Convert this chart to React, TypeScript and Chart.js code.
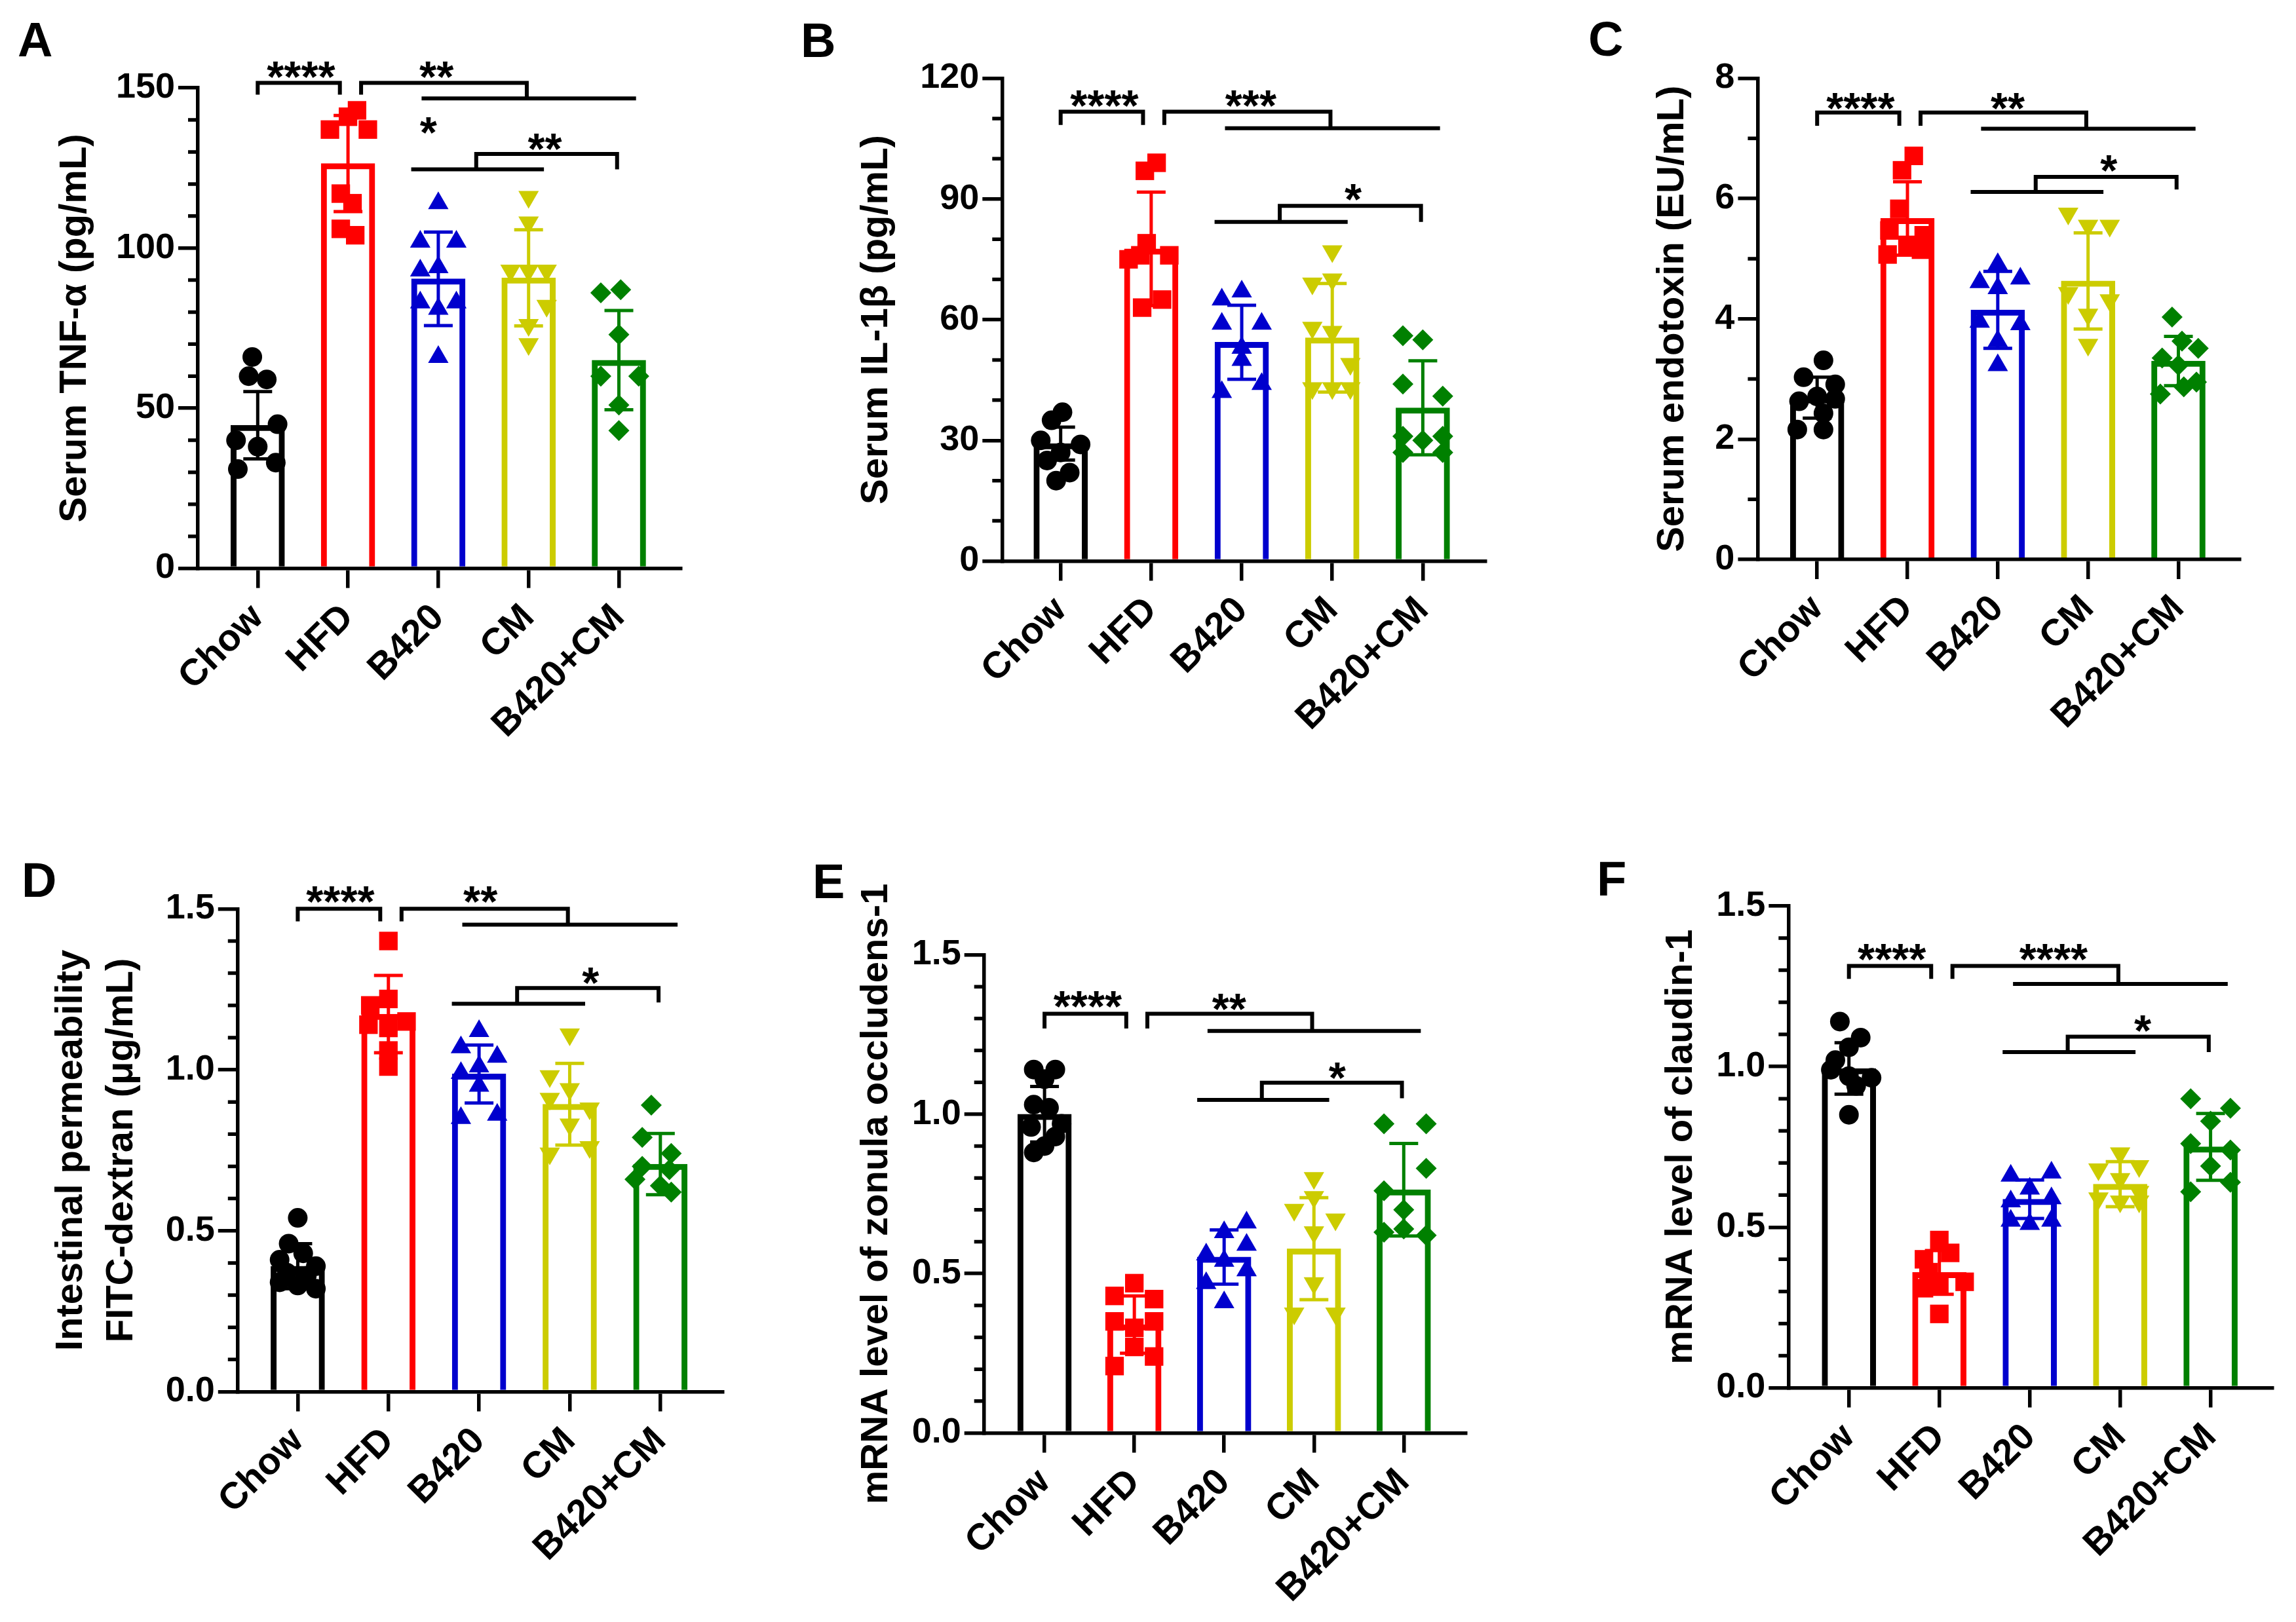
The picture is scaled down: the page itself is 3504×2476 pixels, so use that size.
import React, { useEffect, useRef } from "react";
import { Chart, registerables } from "chart.js";

Chart.register(...registerables);

const FONT = '"Liberation Sans", Arial, Helvetica, sans-serif';
Chart.defaults.font.family = FONT;

// ---------------- data ----------------
const categories = ["Chow", "HFD", "B420", "CM", "B420+CM"];
const groupColors = ["#000000", "#FF0000", "#0000CD", "#CCCC00", "#008000"];
const pointStyles = ["circle", "rect", "triangle", "triangle", "rectRot"];
const pointRotations = [0, 0, 0, 180, 0];
const pointRadii = [15, 20, 18, 18, 16];

// A: Serum TNF-alpha
const tnfMeans = [44.7, 126.4, 90.4, 90.7, 65.0];
const tnfSds = [10.5, 15.0, 14.6, 15.0, 15.5];
const tnfPoints = [
  [66, 60, 59, 45, 40, 38, 33, 31],
  [137, 141, 143, 137, 117, 114, 106, 104],
  [114, 102, 102, 94, 93, 83, 83, 81, 66],
  [116, 108, 93, 93, 93, 82, 76, 70],
  [86, 87, 73, 60, 60, 51, 43],
];
const tnfJitter = [
  [-0.06, -0.1, 0.1, 0.22, -0.24, 0.0, 0.2, -0.22],
  [-0.2, 0.0, 0.1, 0.22, -0.08, 0.05, -0.08, 0.08],
  [0, -0.2, 0.2, 0, -0.2, -0.2, 0.2, 0, 0],
  [0, 0, -0.2, 0, 0.2, 0.2, 0, 0],
  [-0.2, 0.02, 0, -0.2, 0.22, 0, 0],
];

// B: Serum IL-1beta
const il1bMeans = [29.2, 77.6, 54.4, 55.5, 38.1];
const il1bSds = [4.1, 14.1, 9.2, 13.5, 11.7];
const il1bPoints = [
  [37, 35, 30, 29, 27, 25, 22, 20],
  [99, 97, 79, 76, 76, 75, 65, 63],
  [67, 65, 59, 59, 53, 50, 44, 42],
  [77, 70, 69, 58, 57, 49, 43, 43, 43],
  [56, 55, 44, 41, 31, 31, 30, 27, 27],
];
const il1bJitter = [
  [0.02, -0.1, -0.22, 0.22, 0, -0.15, 0.1, -0.05],
  [0.06, -0.07, -0.05, -0.12, 0.2, -0.25, 0.12, -0.1],
  [0, -0.22, 0.22, -0.22, 0, 0, 0.22, -0.22],
  [0, 0, -0.22, -0.22, 0, 0.2, -0.22, 0, 0.2],
  [-0.22, 0, -0.22, 0.22, -0.22, 0.22, 0, -0.22, 0.22],
];

// C: Serum endotoxin
const endoMeans = [2.69, 5.67, 4.15, 4.63, 3.3];
const endoSds = [0.34, 0.61, 0.64, 0.8, 0.41];
const endoPoints = [
  [3.31, 3.03, 2.91, 2.71, 2.63, 2.67, 2.43, 2.16, 2.16],
  [6.71, 6.47, 5.83, 5.47, 5.39, 5.23, 5.15, 5.07],
  [4.91, 4.61, 4.67, 4.51, 3.95, 3.91, 3.63, 3.23],
  [5.75, 5.55, 5.55, 4.43, 4.31, 4.07, 3.57],
  [4.03, 3.63, 3.51, 3.35, 3.23, 2.95, 2.87, 2.75],
];
const endoJitter = [
  [0.07, -0.15, 0.2, 0, -0.2, 0.2, 0.07, -0.22, 0.07],
  [0.07, -0.06, -0.09, -0.2, 0.18, 0, 0.15, -0.22],
  [0, -0.2, 0.25, 0, -0.2, 0.25, 0, 0],
  [-0.22, 0, 0.24, -0.22, 0.24, 0, 0],
  [-0.07, 0.04, 0.22, -0.18, 0, 0.2, 0.06, -0.2],
];

// D: FITC-dextran
const fitcMeans = [0.39, 1.173, 0.987, 0.893, 0.707];
const fitcSds = [0.07, 0.12, 0.09, 0.127, 0.095];
const fitcPoints = [
  [0.54, 0.46, 0.43, 0.41, 0.39, 0.37, 0.36, 0.34, 0.33, 0.32],
  [1.4, 1.22, 1.2, 1.15, 1.14, 1.13, 1.06, 1.01],
  [1.12, 1.07, 1.04, 1.01, 0.99, 0.95, 0.85, 0.86],
  [1.11, 0.98, 0.94, 0.91, 0.88, 0.83, 0.74, 0.76],
  [0.89, 0.79, 0.74, 0.7, 0.69, 0.66, 0.64, 0.62],
];
const fitcJitter = [
  [0, -0.1, 0.06, -0.2, 0.2, -0.12, 0.1, -0.2, 0, 0.2],
  [0, 0, -0.2, 0.2, -0.22, 0, 0, 0],
  [0, -0.2, 0.2, 0, -0.2, 0, -0.2, 0.2],
  [0, -0.22, 0, -0.22, 0.22, 0, -0.22, 0.22],
  [-0.1, -0.2, 0.12, -0.2, 0.1, -0.28, 0, 0.12],
];

// E: ZO-1 mRNA
const zo1Means = [1.0, 0.34, 0.552, 0.578, 0.763];
const zo1Sds = [0.087, 0.09, 0.085, 0.16, 0.145];
const zo1Points = [
  [1.14, 1.14, 1.11, 1.03, 1.02, 0.97, 0.96, 0.93, 0.9, 0.88],
  [0.47, 0.43, 0.42, 0.35, 0.35, 0.33, 0.27, 0.24, 0.21],
  [0.66, 0.63, 0.59, 0.56, 0.54, 0.51, 0.47, 0.41],
  [0.8, 0.74, 0.7, 0.67, 0.63, 0.47, 0.375, 0.375],
  [0.97, 0.97, 0.83, 0.76, 0.7, 0.64, 0.63, 0.62],
];
const zo1Jitter = [
  [-0.12, 0.12, 0, -0.12, 0.05, 0.19, -0.15, 0.12, 0, -0.12],
  [0, -0.22, 0.22, -0.22, 0.22, 0, 0, 0.22, -0.22],
  [0.25, 0, 0.25, -0.2, 0, 0.25, -0.2, 0],
  [0, 0, -0.22, 0.24, 0, 0, -0.22, 0.24],
  [-0.22, 0.25, 0.25, -0.22, 0, 0, -0.22, 0.25],
];

// F: claudin-1 mRNA
const cldnMeans = [0.994, 0.359, 0.587, 0.634, 0.75];
const cldnSds = [0.08, 0.068, 0.06, 0.07, 0.104];
const cldnPoints = [
  [1.14, 1.09, 1.06, 1.02, 0.99, 0.97, 0.965, 0.94, 0.85],
  [0.46, 0.42, 0.4, 0.36, 0.33, 0.32, 0.31, 0.23],
  [0.66, 0.67, 0.62, 0.58, 0.59, 0.52, 0.51, 0.52],
  [0.73, 0.69, 0.68, 0.65, 0.61, 0.59, 0.58, 0.58],
  [0.9, 0.87, 0.83, 0.76, 0.74, 0.69, 0.64, 0.61],
];
const cldnJitter = [
  [-0.1, 0.13, 0, -0.15, -0.2, 0, 0.25, 0.08, 0],
  [0, 0.12, -0.17, -0.12, 0.28, 0, -0.17, 0],
  [-0.21, 0.24, 0, -0.21, 0.24, -0.21, 0, 0.24],
  [0, 0.21, -0.24, 0, 0.21, -0.24, 0, 0.21],
  [-0.22, 0.22, 0, -0.22, 0.22, 0, 0.22, -0.22],
];

// significance labels
const tnfStars = ["****", "**", "*", "**"];
const il1bStars = ["****", "***", "*"];
const endoStars = ["****", "**", "*"];
const fitcStars = ["****", "**", "*"];
const zo1Stars = ["****", "**", "*"];
const cldnStars = ["****", "****", "*"];

// ---------------- layout / annotation geometry ----------------
// bracket x positions in category units
const BR = { b1a: 0, b1b: 0.91, b2a: 1.145, b2b: 2.98, l2a: 1.815, l2b: 4.19, l3a: 1.7, l3b: 3.17, stem: 2.42, b3b: 3.98 };

const panels = [
  {
    letter: "A", letterPos: [27, 86], box: { left: 0, top: 0, w: 1168, h: 1238 },
    axisX: 302, c0: 393.3, c4: 944.5, xEnd: 1039, topY: 134.2, zeroY: 867.6,
    yMax: 150, yStep: 50, minorStep: 10, decimals: 0,
    title: "Serum TNF-α (pg/mL)", titleX: 115,
    means: tnfMeans, sds: tnfSds, points: tnfPoints, jitter: tnfJitter,
    levels: [151.6, 147.9, 146.7, 124.6, 129.4, 124.6],
    stars: tnfStars, starPos: [[0.48, 156.4], [1.98, 156.4], [1.89, 139.2], [3.18, 133.9]],
  },
  {
    letter: "B", letterPos: [54, 87], box: { left: 1168, top: 0, w: 1168, h: 1238 },
    axisX: 1529.3, c0: 1618.7, c4: 2171.4, xEnd: 2266.7, topY: 119.5, zeroY: 856.5,
    yMax: 120, yStep: 30, minorStep: 10, decimals: 0,
    title: "Serum IL-1β (pg/mL)", titleX: 1338,
    means: il1bMeans, sds: il1bSds, points: il1bPoints, jitter: il1bJitter,
    levels: [111.7, 108.4, 107.6, 84.3, 88.3, 84.3],
    stars: il1bStars, starPos: [[0.483, 115.6], [2.1, 115.6], [3.23, 92.3]],
  },
  {
    letter: "C", letterPos: [88, 85], box: { left: 2336, top: 0, w: 1168, h: 1238 },
    axisX: 2682.4, c0: 2773.2, c4: 3324.5, xEnd: 3417.6, topY: 119.5, zeroY: 854,
    yMax: 8, yStep: 2, minorStep: 1, decimals: 0,
    title: "Serum endotoxin (EU/mL)", titleX: 2552.5,
    means: endoMeans, sds: endoSds, points: endoPoints, jitter: endoJitter,
    levels: [7.43, 7.21, 7.16, 6.11, 6.36, 6.15],
    stars: endoStars, starPos: [[0.48, 7.66], [2.11, 7.66], [3.23, 6.63]],
  },
  {
    letter: "D", letterPos: [33, 131], box: { left: 0, top: 1238, w: 1168, h: 1238 },
    axisX: 362.8, c0: 454.4, c4: 1007.8, xEnd: 1102.4, topY: 1387.3, zeroY: 2124.5,
    yMax: 1.5, yStep: 0.5, minorStep: 0.1, decimals: 1,
    title: ["Intestinal permeability", "FITC-dextran (μg/mL)"], titleX: 108.7,
    means: fitcMeans, sds: fitcSds, points: fitcPoints, jitter: fitcJitter,
    levels: [1.5, 1.461, 1.451, 1.205, 1.254, 1.209],
    stars: fitcStars, starPos: [[0.47, 1.553], [2.015, 1.553], [3.23, 1.3]],
  },
  {
    letter: "E", letterPos: [72, 133], box: { left: 1168, top: 1238, w: 1168, h: 1238 },
    axisX: 1501.7, c0: 1594.1, c4: 2142.3, xEnd: 2236.9, topY: 1457.5, zeroY: 2187.5,
    yMax: 1.5, yStep: 0.5, minorStep: 0.1, decimals: 1,
    title: "mRNA level of zonula occludens-1", titleX: 1337.5,
    means: zo1Means, sds: zo1Sds, points: zo1Points, jitter: zo1Jitter,
    levels: [1.315, 1.269, 1.261, 1.045, 1.099, 1.05],
    stars: zo1Stars, starPos: [[0.48, 1.369], [2.056, 1.361], [3.26, 1.145]],
  },
  {
    letter: "F", letterPos: [101, 129], box: { left: 2336, top: 1238, w: 1168, h: 1238 },
    axisX: 2729.3, c0: 2821.7, c4: 3373.6, xEnd: 3468.2, topY: 1382.9, zeroY: 2118.5,
    yMax: 1.5, yStep: 0.5, minorStep: 0.1, decimals: 1,
    title: "mRNA level of claudin-1", titleX: 2565.5,
    means: cldnMeans, sds: cldnSds, points: cldnPoints, jitter: cldnJitter,
    levels: [1.313, 1.273, 1.257, 1.045, 1.093, 1.045],
    stars: cldnStars, starPos: [[0.475, 1.364], [2.263, 1.364], [3.25, 1.141]],
  },
];

const AXIS_W = 5.5;
const TICK_LEN = 30;
const MINOR_LEN = 15;
const TITLE_SIZE = 58;
const TITLE_LH = 1.333;
const STAR_SIZE = 67;
const LETTER_SIZE = 74;
const BRACKET_W = 6;

function makePlugin(p: any) {
  return {
    id: "decor" + p.letter,
    afterDatasetDraw(chart: any, args: any) {
      if (args.index !== 0) return;
      const ctx = chart.ctx;
      const xs = chart.scales.x;
      const ys = chart.scales.y;
      ctx.save();
      ctx.lineWidth = 5;
      ctx.lineCap = "butt";
      p.means.forEach((m: number, i: number) => {
        const x = xs.getPixelForValue(i);
        const yT = ys.getPixelForValue(m + p.sds[i]);
        const yB = ys.getPixelForValue(m - p.sds[i]);
        const cap = 22;
        ctx.strokeStyle = groupColors[i];
        ctx.beginPath();
        ctx.moveTo(x, yT);
        ctx.lineTo(x, yB);
        ctx.moveTo(x - cap, yT);
        ctx.lineTo(x + cap, yT);
        ctx.moveTo(x - cap, yB);
        ctx.lineTo(x + cap, yB);
        ctx.stroke();
      });
      ctx.restore();
    },
    afterDraw(chart: any) {
      const ctx = chart.ctx;
      const xs = chart.scales.x;
      const ys = chart.scales.y;
      const X = (u: number) => xs.getPixelForValue(u);
      const Y = (v: number) => ys.getPixelForValue(v);
      const left = chart.chartArea.left;
      ctx.save();
      // minor ticks
      ctx.strokeStyle = "#000";
      ctx.lineWidth = AXIS_W;
      ctx.beginPath();
      const n = Math.round(p.yMax / p.minorStep);
      for (let k = 1; k < n; k++) {
        const v = k * p.minorStep;
        const r = v / p.yStep;
        if (Math.abs(r - Math.round(r)) < 1e-6) continue;
        const y = Y(v);
        ctx.moveTo(left - MINOR_LEN, y);
        ctx.lineTo(left, y);
      }
      ctx.stroke();
      // brackets
      const [L1, D1, L2, L3, L4, D3] = p.levels;
      ctx.lineWidth = BRACKET_W;
      ctx.lineJoin = "miter";
      ctx.beginPath();
      ctx.moveTo(X(BR.b1a), Y(D1));
      ctx.lineTo(X(BR.b1a), Y(L1));
      ctx.lineTo(X(BR.b1b), Y(L1));
      ctx.lineTo(X(BR.b1b), Y(D1));
      ctx.moveTo(X(BR.b2a), Y(D1));
      ctx.lineTo(X(BR.b2a), Y(L1));
      ctx.lineTo(X(BR.b2b), Y(L1));
      ctx.lineTo(X(BR.b2b), Y(L2));
      ctx.moveTo(X(BR.l2a), Y(L2));
      ctx.lineTo(X(BR.l2b), Y(L2));
      ctx.moveTo(X(BR.l3a), Y(L3));
      ctx.lineTo(X(BR.l3b), Y(L3));
      ctx.moveTo(X(BR.stem), Y(L3));
      ctx.lineTo(X(BR.stem), Y(L4));
      ctx.lineTo(X(BR.b3b), Y(L4));
      ctx.lineTo(X(BR.b3b), Y(D3));
      ctx.stroke();
      // stars
      ctx.fillStyle = "#000";
      ctx.font = `bold ${STAR_SIZE}px ${FONT}`;
      ctx.textAlign = "center";
      ctx.textBaseline = "alphabetic";
      p.stars.forEach((s: string, i: number) => {
        const [u, v] = p.starPos[i];
        ctx.fillText(s, X(u), Y(v) + 0.56 * STAR_SIZE);
      });
      // panel letter
      ctx.font = `bold ${LETTER_SIZE}px ${FONT}`;
      ctx.textAlign = "left";
      ctx.fillText(p.letter, p.letterPos[0], p.letterPos[1]);
      ctx.restore();
    },
  };
}

function buildConfig(p: any) {
  const { box } = p;
  const sp = (p.c4 - p.c0) / 4;
  const xMin = -(p.c0 - p.axisX) / sp;
  const xMax = 4 + (p.xEnd - p.c4) / sp;
  const AW = p.axisX - box.left;
  const PT = p.topY - box.top;
  const PR = box.left + box.w - p.xEnd;
  const AH = box.top + box.h - p.zeroY;
  const titlePad = p.titleX - box.left - (TITLE_SIZE * TITLE_LH) / 2;

  const datasets: any[] = [
    {
      type: "bar",
      data: p.means.map((m: number, i: number) => ({ x: i, y: m })),
      backgroundColor: "#FFFFFF",
      borderColor: groupColors,
      borderWidth: 9,
      borderSkipped: "start",
      barThickness: 82,
      order: 2,
    },
    ...p.points.map((vals: number[], g: number) => ({
      type: "scatter",
      data: vals.map((v, k) => ({ x: g + p.jitter[g][k], y: v })),
      pointStyle: pointStyles[g],
      pointRotation: pointRotations[g],
      pointRadius: pointRadii[g],
      pointHoverRadius: pointRadii[g],
      pointBackgroundColor: groupColors[g],
      pointBorderColor: groupColors[g],
      pointBorderWidth: 0,
      showLine: false,
      clip: false,
      order: 1,
    })),
  ];

  const tickFont = { family: FONT, size: 54, weight: "bold" as const };
  const gridOpts = {
    display: true,
    offset: false,
    drawOnChartArea: false,
    drawTicks: true,
    tickLength: TICK_LEN,
    tickWidth: AXIS_W,
    tickColor: "#000",
    lineWidth: AXIS_W,
    color: "#000",
  };
  return {
    type: "bar",
    data: { datasets },
    options: {
      responsive: false,
      maintainAspectRatio: false,
      animation: false,
      devicePixelRatio: 1,
      events: [],
      layout: { padding: { left: 0, top: PT, right: PR, bottom: 0 } },
      plugins: { legend: { display: false }, tooltip: { enabled: false }, title: { display: false } },
      scales: {
        x: {
          type: "linear",
          min: xMin,
          max: xMax,
          bounds: "data",
          offset: false,
          afterBuildTicks: (s: any) => {
            s.ticks = categories.map((_, i) => ({ value: i }));
          },
          afterFit: (s: any) => {
            s.height = AH;
          },
          ticks: {
            autoSkip: false,
            minRotation: 45,
            maxRotation: 45,
            padding: 12,
            color: "#000",
            font: { family: FONT, size: 57, weight: "bold" },
            callback: (v: number) => categories[Math.round(v)] ?? "",
          },
          grid: gridOpts,
          border: { display: true, color: "#000", width: AXIS_W },
        },
        y: {
          type: "linear",
          min: 0,
          max: p.yMax,
          afterFit: (s: any) => {
            s.width = AW;
          },
          ticks: {
            stepSize: p.yStep,
            padding: 5,
            color: "#000",
            font: tickFont,
            callback: (v: number) => (p.decimals ? Number(v).toFixed(1) : String(Math.round(v))),
          },
          grid: gridOpts,
          border: { display: true, color: "#000", width: AXIS_W },
          title: {
            display: true,
            text: p.title,
            color: "#000",
            font: { family: FONT, size: TITLE_SIZE, weight: "bold", lineHeight: TITLE_LH },
            padding: { top: titlePad, bottom: 0 },
          },
        },
      },
    },
    plugins: [makePlugin(p)],
  };
}

function Panel({ p }: { p: any }) {
  const ref = useRef<HTMLCanvasElement>(null);
  useEffect(() => {
    if (!ref.current) return;
    const chart = new Chart(ref.current, buildConfig(p) as any);
    return () => chart.destroy();
  }, [p]);
  return (
    <canvas
      ref={ref}
      width={p.box.w}
      height={p.box.h}
      style={{ position: "absolute", left: p.box.left, top: p.box.top, width: p.box.w, height: p.box.h, display: "block" }}
    />
  );
}

export default function App() {
  return (
    <div style={{ position: "absolute", left: 0, top: 0, width: 3504, height: 2476, background: "#FFFFFF", overflow: "hidden" }}>
      {panels.map((p) => (
        <Panel key={p.letter} p={p} />
      ))}
    </div>
  );
}
